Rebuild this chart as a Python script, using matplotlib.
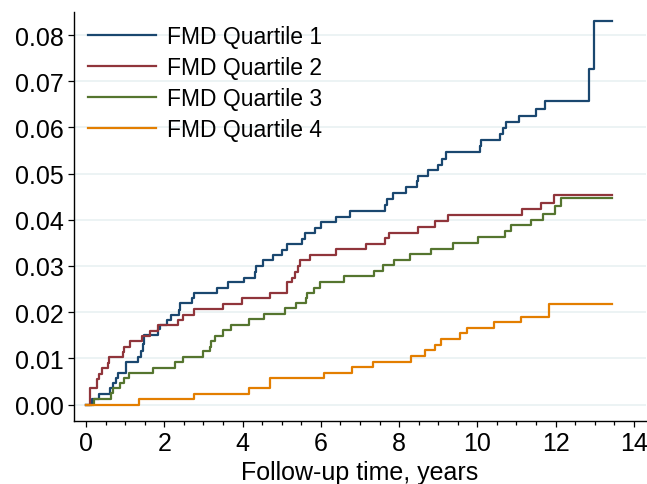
import matplotlib
matplotlib.use("Agg")
import matplotlib.pyplot as plt
import numpy as np
from matplotlib.ticker import MultipleLocator, FormatStrFormatter

plt.rcParams['font.family'] = ['Liberation Sans', 'DejaVu Sans']

# ---- data (time in years, cumulative incidence) ----
q1_t = [0, 0.145, 0.34, 0.61, 0.70, 0.77, 0.83, 1.01, 1.34, 1.40, 1.45, 1.48, 1.83, 1.89, 2.07,
        2.17, 2.37, 2.41, 2.71, 2.75, 3.34, 3.62, 4.04, 4.33, 4.35, 4.53, 4.77, 5.01, 5.14, 5.52,
        5.60, 5.86, 6.01, 6.39, 6.75, 7.63, 7.70, 7.84, 8.17, 8.45, 8.48, 8.74, 8.99, 9.10, 9.19,
        10.07, 10.10, 10.57, 10.65, 10.72, 11.07, 11.51, 11.74, 12.86, 12.99, 13.45]
q1_y = [0, 0.0013, 0.0022, 0.0035, 0.0046, 0.0058, 0.0069, 0.0091, 0.0103, 0.0116, 0.0132, 0.0150,
        0.0163, 0.0172, 0.0183, 0.0194, 0.0205, 0.0219, 0.0230, 0.0241, 0.0253, 0.0265, 0.0275,
        0.0288, 0.0300, 0.0312, 0.0324, 0.0335, 0.0347, 0.0359, 0.0371, 0.0383, 0.0395, 0.0407,
        0.0419, 0.0432, 0.0445, 0.0458, 0.0470, 0.0483, 0.0494, 0.0507, 0.0519, 0.0532, 0.0546,
        0.0559, 0.0572, 0.0586, 0.0598, 0.0612, 0.0625, 0.0641, 0.0657, 0.0727, 0.0830, 0.0830]

q2_t = [0, 0.10, 0.29, 0.34, 0.41, 0.55, 0.60, 0.94, 0.97, 1.13, 1.43, 1.64, 1.83, 2.36, 2.49,
        2.77, 3.49, 3.99, 4.71, 5.14, 5.27, 5.33, 5.42, 5.48, 5.73, 6.39, 7.16, 7.65, 7.74, 8.48,
        8.91, 9.25, 11.15, 11.62, 11.95, 13.45]
q2_y = [0, 0.0035, 0.0056, 0.0067, 0.0078, 0.0089, 0.0102, 0.0114, 0.0125, 0.0138, 0.0148,
        0.0159, 0.0172, 0.0183, 0.0194, 0.0207, 0.0218, 0.0231, 0.0242, 0.0265, 0.0275, 0.0288,
        0.0300, 0.0313, 0.0324, 0.0336, 0.0348, 0.0360, 0.0372, 0.0385, 0.0398, 0.0410, 0.0423,
        0.0437, 0.0454, 0.0454]

q3_t = [0, 0.205, 0.64, 0.70, 0.87, 0.97, 1.10, 1.70, 2.27, 2.47, 3.00, 3.16, 3.19, 3.30, 3.49,
        3.71, 4.17, 4.54, 5.09, 5.37, 5.61, 5.65, 5.82, 5.98, 6.59, 7.35, 7.60, 7.87, 8.28, 8.82,
        9.39, 10.02, 10.71, 10.85, 11.36, 11.67, 11.98, 12.13, 13.45]
q3_y = [0, 0.0012, 0.0024, 0.0035, 0.0046, 0.0058, 0.0069, 0.0080, 0.0091, 0.0103, 0.0116,
        0.0125, 0.0137, 0.0149, 0.0161, 0.0172, 0.0185, 0.0196, 0.0208, 0.0219, 0.0231, 0.0242,
        0.0253, 0.0266, 0.0278, 0.0290, 0.0302, 0.0313, 0.0325, 0.0337, 0.0349, 0.0362, 0.0375,
        0.0388, 0.0400, 0.0413, 0.0429, 0.0447, 0.0447]

q4_t = [0, 1.36, 2.77, 4.17, 4.71, 6.09, 6.80, 7.34, 8.31, 8.65, 8.93, 9.06, 9.55, 9.74, 10.42,
        11.11, 11.83, 13.45]
q4_y = [0, 0.0012, 0.0023, 0.0035, 0.0058, 0.0069, 0.0082, 0.0093, 0.0106, 0.0118, 0.0129,
        0.0142, 0.0154, 0.0166, 0.0178, 0.0190, 0.0217, 0.0217]

labels = ["FMD Quartile 1", "FMD Quartile 2", "FMD Quartile 3", "FMD Quartile 4"]
colors = ["#1a476f", "#90353b", "#55752f", "#e37e00"]

fig = plt.figure(figsize=(6.47, 4.85), dpi=100)
ax = fig.add_axes([74/647, 1 - 422/485, (646 - 74)/647, (422 - 13)/485])

series = [(q1_t, q1_y), (q2_t, q2_y), (q3_t, q3_y), (q4_t, q4_y)]
for (t, y), lab, c in zip(series, labels, colors):
    ax.step(t, y, where='post', color=c, lw=1.6, label=lab, zorder=3)

ax.set_xlim(-0.307, 14.31)
ax.set_ylim(-0.00357, 0.085)

ax.xaxis.set_minor_locator(MultipleLocator(0.5))
ax.yaxis.set_major_formatter(FormatStrFormatter('%.2f'))
ax.set_xticks(np.arange(0, 15, 2))
ax.set_yticks(np.arange(0, 0.081, 0.01))

ax.grid(axis='y', color='#eaf2f3', lw=1.3, zorder=0)
ax.set_axisbelow(True)

for s in ['top', 'right']:
    ax.spines[s].set_visible(False)
for s in ['left', 'bottom']:
    ax.spines[s].set_linewidth(1.0)
    ax.spines[s].set_color('black')

ax.tick_params(axis='both', which='major', direction='out', length=4.5, width=0.9,
               labelsize=18, pad=3, color='black')
ax.tick_params(axis='x', which='minor', direction='out', length=3, width=0.9, color='black')

ax.set_xlabel("Follow-up time, years", fontsize=18, labelpad=3)

leg = ax.legend(loc='upper left', bbox_to_anchor=(0.009, 0.99), frameon=False,
                fontsize=16.5, handlelength=2.95, handletextpad=0.5, labelspacing=0.34,
                borderaxespad=0.0)

fig.savefig("out.png", dpi=100)
